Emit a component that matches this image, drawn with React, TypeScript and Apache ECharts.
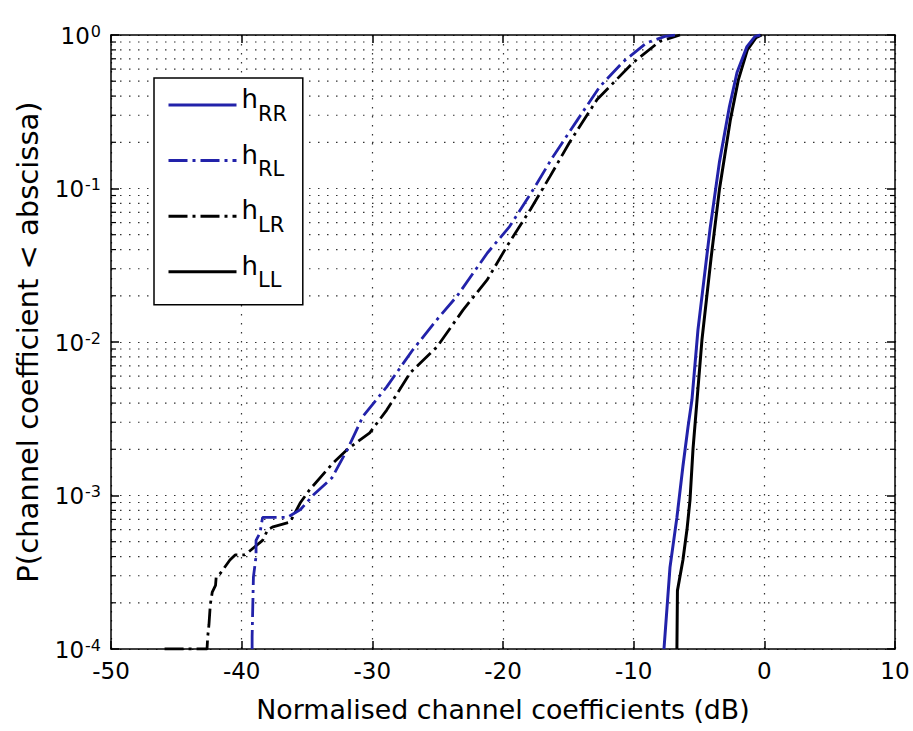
import React, { useEffect, useRef } from 'react';
import * as echarts from 'echarts';

// ---- data (x in dB, y = probability) ----
const hRR: [number, number][] = [
  [-7.68, 1e-4], [-7.22, 3.4e-4], [-6.69, 7.2e-4], [-6.23, 1.55e-3], [-5.84, 2.8e-3],
  [-5.54, 4.2e-3], [-5.08, 1.2e-2], [-4.16, 5.4e-2], [-3.44, 0.148], [-2.67, 0.342],
  [-2.09, 0.57], [-1.33, 0.84], [-0.71, 0.98], [-0.3, 1.0],
];
const hLL: [number, number][] = [
  [-6.69, 1e-4], [-6.65, 2.4e-4], [-6.23, 3.8e-4], [-5.92, 6.0e-4], [-5.69, 9.3e-4],
  [-5.46, 2.0e-3], [-5.15, 4.2e-3], [-4.77, 1.04e-2], [-4.08, 3.5e-2], [-3.44, 9.8e-2],
  [-2.6, 0.28], [-1.99, 0.51], [-1.3, 0.8], [-0.64, 0.96], [-0.2, 1.0],
];
const hRL: [number, number][] = [
  [-39.2, 1e-4], [-39.2, 1.2e-4], [-39.15, 1.9e-4], [-39.1, 2.95e-4], [-38.9, 4.0e-4],
  [-38.9, 5.1e-4], [-38.6, 5.7e-4], [-38.4, 7.2e-4], [-36.5, 7.2e-4], [-35.5, 8.1e-4],
  [-34.5, 1.01e-3], [-33.1, 1.3e-3], [-31.9, 2.0e-3], [-30.7, 3.3e-3], [-28.9, 5.1e-3],
  [-26.9, 8.9e-3], [-25.05, 1.4e-2], [-23.5, 2.0e-2], [-21.2, 3.8e-2], [-19.5, 5.65e-2],
  [-17.7, 9.8e-2], [-16.2, 0.16], [-14.3, 0.28], [-12.6, 0.46], [-10.8, 0.67],
  [-9.0, 0.89], [-7.6, 0.98], [-6.7, 1.0],
];
const hLR: [number, number][] = [
  [-45.9, 1e-4], [-42.65, 1e-4], [-42.6, 1.2e-4], [-42.5, 1.45e-4], [-42.4, 1.95e-4],
  [-42.25, 2.35e-4], [-42.0, 2.6e-4], [-41.95, 2.95e-4], [-41.65, 3.1e-4], [-40.9, 3.8e-4],
  [-40.5, 4.1e-4], [-39.75, 4.1e-4], [-38.4, 5.1e-4], [-38.0, 6.0e-4], [-37.6, 6.25e-4],
  [-36.3, 6.7e-4], [-35.5, 9.0e-4], [-34.8, 1.09e-3], [-33.0, 1.63e-3], [-31.9, 2.0e-3],
  [-30.2, 2.56e-3], [-28.9, 3.6e-3], [-27.1, 6.3e-3], [-25.05, 9.3e-3], [-23.05, 1.62e-2],
  [-21.2, 2.55e-2], [-19.7, 4.2e-2], [-17.9, 7.3e-2], [-16.4, 0.12], [-14.9, 0.2],
  [-12.8, 0.38], [-10.05, 0.66], [-8.0, 0.91], [-6.45, 1.0],
];

const seriesNames = ['hRR', 'hRL', 'hLR', 'hLL'];
const xMin = -50;
const xMax = 10;
const xStep = 10;
const yMin = 1e-4;
const yMax = 1;
const decades = [-4, -3, -2, -1];
const minorMultipliers = [2, 3, 4, 5, 6, 7, 8, 9];

const FONT = 'DejaVu Sans, Verdana, sans-serif';
const BLUE = '#2222aa';
const DOT = '#333333';
const dashDot = [19, 5, 3, 5];

export default function App() {
  const ref = useRef<HTMLDivElement>(null);
  useEffect(() => {
    if (!ref.current) return;
    const chart = echarts.init(ref.current, null, { renderer: 'svg' });

    const minorVals: number[] = [];
    decades.forEach((k) => minorMultipliers.forEach((m) => minorVals.push(m * Math.pow(10, k))));

    const commonY = {
      type: 'log' as const,
      logBase: 10,
      min: yMin,
      max: yMax,
    };
    const axisLine = { show: true, onZero: false, lineStyle: { color: '#000', width: 1.5 } };
    const axisTick = { show: true, inside: true, length: 8, lineStyle: { color: '#000', width: 1.5 } };
    const dotted = { show: true, lineStyle: { color: DOT, width: 1.2, type: [1.5, 7.5] } };

    const option: any = {
      animation: false,
      backgroundColor: '#fff',
      grid: { left: 111, right: 18, top: 35, bottom: 82, containLabel: false },
      legend: {
        data: seriesNames,
        orient: 'vertical',
        left: 154,
        top: 78,
        padding: [8, 15, 14, 13],
        itemGap: 17.6,
        itemWidth: 68,
        itemHeight: 14,
        borderColor: '#000',
        borderWidth: 1.5,
        backgroundColor: '#fff',
        selectedMode: false,
        itemStyle: { opacity: 0, color: 'rgba(0,0,0,0)', borderWidth: 0 },
        lineStyle: { width: 3 },
        formatter: (name: string) => `{h|h}{s|${name.slice(1)}}{p| }`,
        textStyle: {
          fontFamily: FONT,
          color: '#000',
          rich: {
            h: { fontFamily: FONT, fontSize: 26, lineHeight: 26, verticalAlign: 'top', color: '#000' },
            s: { fontFamily: FONT, fontSize: 21, lineHeight: 21, verticalAlign: 'bottom', color: '#000' },
            p: { fontFamily: FONT, fontSize: 2, lineHeight: 38, verticalAlign: 'bottom', color: '#000' },
          },
        },
      },
      xAxis: [
        {
          type: 'value',
          min: xMin,
          max: xMax,
          interval: xStep,
          name: 'Normalised channel coefficients (dB)',
          nameLocation: 'middle',
          nameGap: 47,
          nameTextStyle: { fontFamily: FONT, fontSize: 26.8, color: '#000' },
          axisLine,
          axisTick,
          axisLabel: { fontFamily: FONT, fontSize: 23, color: '#000', margin: 10 },
          splitLine: dotted,
        },
        {
          type: 'value',
          position: 'top',
          min: xMin,
          max: xMax,
          interval: xStep,
          axisLine,
          axisTick,
          axisLabel: { show: false },
          splitLine: { show: false },
        },
      ],
      yAxis: [
        {
          ...commonY,
          name: 'P(channel coefficient < abscissa)',
          nameLocation: 'middle',
          nameGap: 69,
          nameTextStyle: { fontFamily: FONT, fontSize: 29, color: '#000' },
          axisLine,
          axisTick,
          axisLabel: {
            margin: 10,
            formatter: (v: number) => `{b|10}{e|${Math.round(Math.log10(v))}}`,
            rich: {
              b: { fontFamily: FONT, fontSize: 23, lineHeight: 24, verticalAlign: 'bottom', color: '#000' },
              e: { fontFamily: FONT, fontSize: 16, lineHeight: 16, padding: [0, 0, 14, 1], verticalAlign: 'top', color: '#000' },
            },
          },
          splitLine: dotted,
        },
        {
          ...commonY,
          position: 'right',
          axisLine,
          axisTick,
          axisLabel: { show: false },
          splitLine: { show: false },
        },
      ],
      series: [
        {
          name: 'minor',
          type: 'custom',
          xAxisIndex: 0,
          yAxisIndex: 0,
          z: 1,
          silent: true,
          data: minorVals.map((v) => [xMin, v]),
          encode: { x: 0, y: 1 },
          renderItem: (_params: any, api: any) => {
            const y = api.value(1);
            const pl = api.coord([xMin, y]);
            const pr = api.coord([xMax, y]);
            return {
              type: 'group',
              children: [
                {
                  type: 'line',
                  shape: { x1: pl[0], y1: pl[1], x2: pr[0], y2: pr[1] },
                  style: { stroke: DOT, lineWidth: 1.2, lineDash: [1.5, 7.5] },
                },
                {
                  type: 'line',
                  shape: { x1: pl[0], y1: pl[1], x2: pl[0] + 5, y2: pl[1] },
                  style: { stroke: '#000', lineWidth: 1.2 },
                },
                {
                  type: 'line',
                  shape: { x1: pr[0] - 5, y1: pr[1], x2: pr[0], y2: pr[1] },
                  style: { stroke: '#000', lineWidth: 1.2 },
                },
              ],
            };
          },
        },
        {
          name: 'hLL', type: 'line', data: hLL, symbol: 'none', showSymbol: false, z: 3,
          lineStyle: { color: '#000', width: 3, type: 'solid' }, itemStyle: { color: '#000' },
        },
        {
          name: 'hLR', type: 'line', data: hLR, symbol: 'none', showSymbol: false, z: 3,
          lineStyle: { color: '#000', width: 2.8, type: dashDot }, itemStyle: { color: '#000' },
        },
        {
          name: 'hRL', type: 'line', data: hRL, symbol: 'none', showSymbol: false, z: 4,
          lineStyle: { color: BLUE, width: 2.8, type: dashDot }, itemStyle: { color: BLUE },
        },
        {
          name: 'hRR', type: 'line', data: hRR, symbol: 'none', showSymbol: false, z: 4,
          lineStyle: { color: BLUE, width: 3, type: 'solid' }, itemStyle: { color: BLUE },
        },
      ],
    };

    chart.setOption(option);
    return () => chart.dispose();
  }, []);

  return (
    <div
      ref={ref}
      style={{ position: 'fixed', left: 0, top: 0, width: 913, height: 731, background: '#fff' }}
    />
  );
}
